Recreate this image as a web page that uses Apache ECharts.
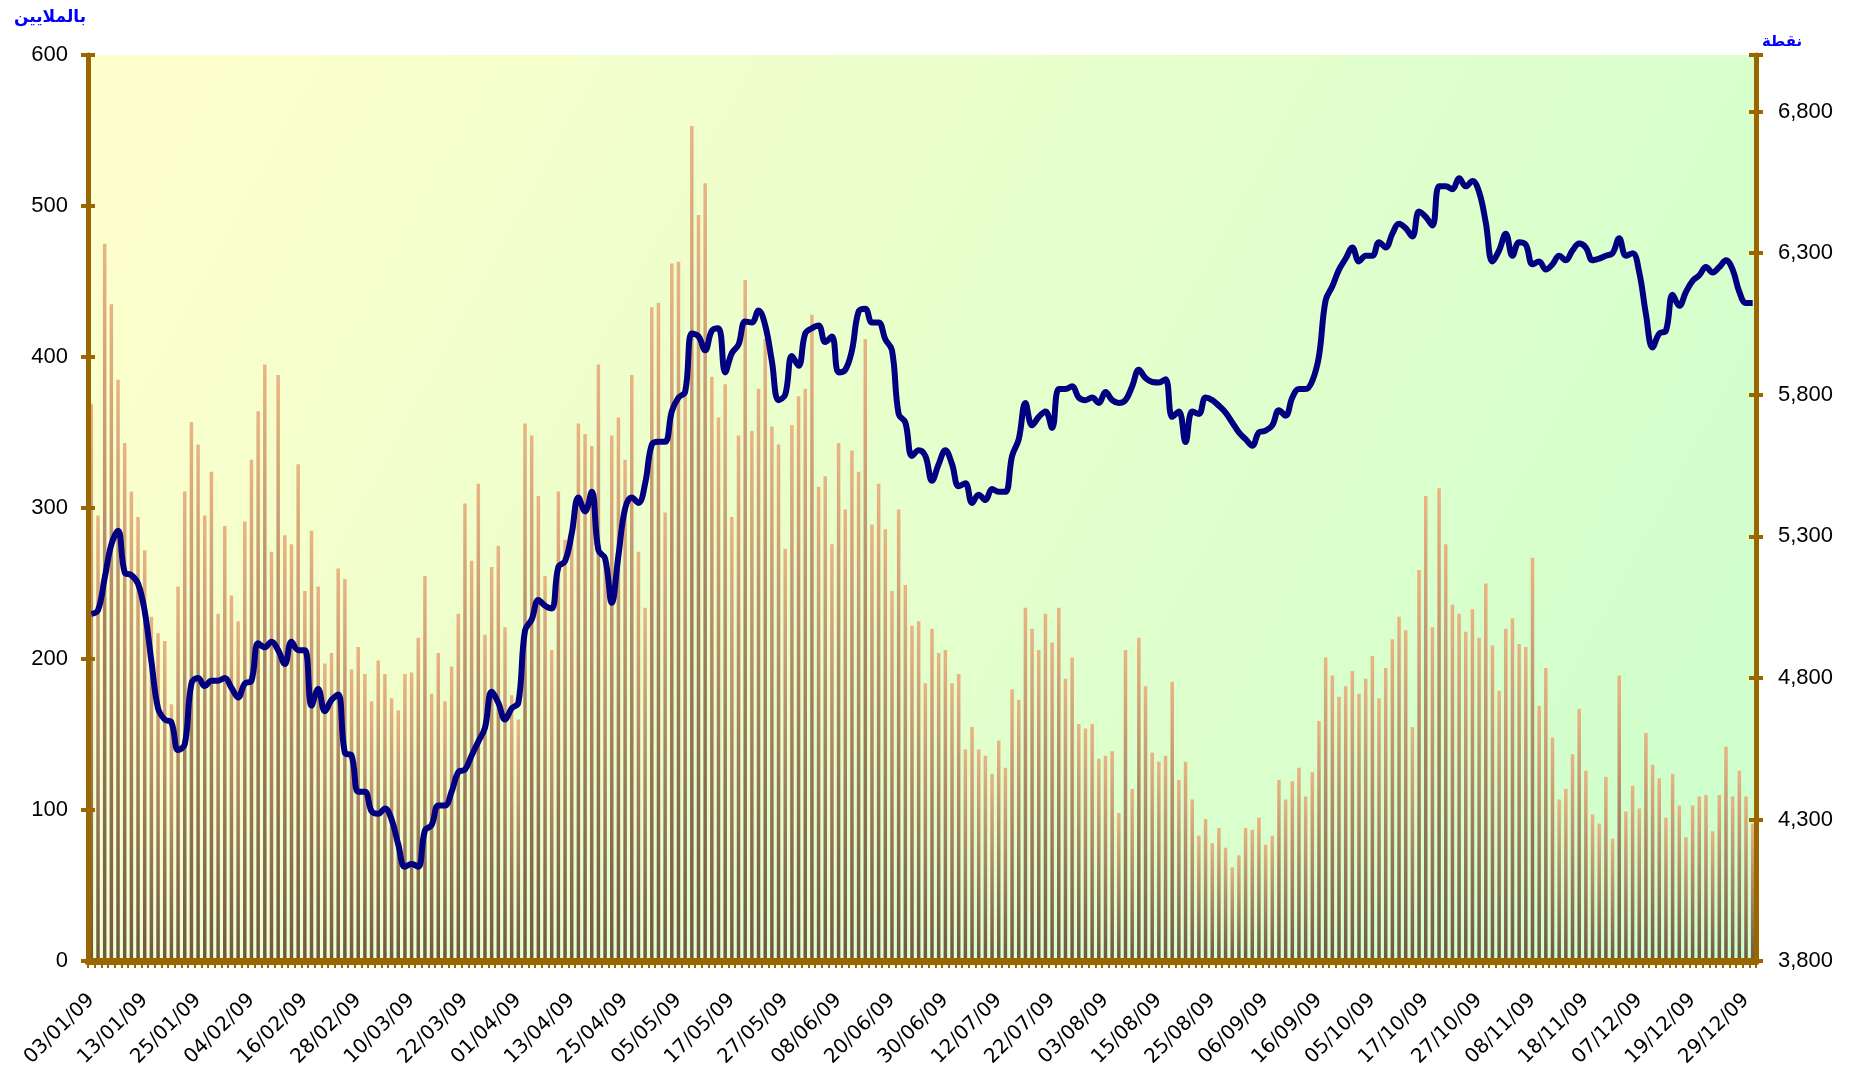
<!DOCTYPE html>
<html>
<head>
<meta charset="utf-8">
<script src="https://cdn.jsdelivr.net/npm/echarts@6/dist/echarts.min.js"></script>
<style>
html,body{margin:0;padding:0;background:#fff;}
#chart{width:1859px;height:1072px;}
</style>
</head>
<body>
<div id="chart"></div>
<script>
// Trading days (Sat–Wed), 2009
const dates = [
"03/01/09","04/01/09","05/01/09","06/01/09","07/01/09","10/01/09","11/01/09","12/01/09","13/01/09","14/01/09",
"17/01/09","18/01/09","19/01/09","20/01/09","21/01/09","24/01/09","25/01/09","26/01/09","27/01/09","28/01/09",
"31/01/09","01/02/09","02/02/09","03/02/09","04/02/09","07/02/09","08/02/09","09/02/09","10/02/09","11/02/09",
"14/02/09","15/02/09","16/02/09","17/02/09","18/02/09","21/02/09","22/02/09","23/02/09","24/02/09","25/02/09",
"28/02/09","01/03/09","02/03/09","03/03/09","04/03/09","07/03/09","08/03/09","09/03/09","10/03/09","11/03/09",
"14/03/09","15/03/09","16/03/09","17/03/09","18/03/09","21/03/09","22/03/09","23/03/09","24/03/09","25/03/09",
"28/03/09","29/03/09","30/03/09","31/03/09","01/04/09","04/04/09","05/04/09","06/04/09","07/04/09","08/04/09",
"11/04/09","12/04/09","13/04/09","14/04/09","15/04/09","18/04/09","19/04/09","20/04/09","21/04/09","22/04/09",
"25/04/09","26/04/09","27/04/09","28/04/09","29/04/09","02/05/09","03/05/09","04/05/09","05/05/09","06/05/09",
"09/05/09","10/05/09","11/05/09","12/05/09","13/05/09","16/05/09","17/05/09","18/05/09","19/05/09","20/05/09",
"23/05/09","24/05/09","25/05/09","26/05/09","27/05/09","30/05/09","31/05/09","01/06/09","02/06/09","03/06/09",
"06/06/09","07/06/09","08/06/09","09/06/09","10/06/09","13/06/09","14/06/09","15/06/09","16/06/09","17/06/09",
"20/06/09","21/06/09","22/06/09","23/06/09","24/06/09","27/06/09","28/06/09","29/06/09","30/06/09","01/07/09",
"04/07/09","05/07/09","06/07/09","07/07/09","08/07/09","11/07/09","12/07/09","13/07/09","14/07/09","15/07/09",
"18/07/09","19/07/09","20/07/09","21/07/09","22/07/09","25/07/09","26/07/09","27/07/09","28/07/09","29/07/09",
"01/08/09","02/08/09","03/08/09","04/08/09","05/08/09","08/08/09","09/08/09","10/08/09","11/08/09","12/08/09",
"15/08/09","16/08/09","17/08/09","18/08/09","19/08/09","22/08/09","23/08/09","24/08/09","25/08/09","26/08/09",
"29/08/09","30/08/09","31/08/09","01/09/09","02/09/09","05/09/09","06/09/09","07/09/09","08/09/09","09/09/09",
"12/09/09","13/09/09","14/09/09","15/09/09","16/09/09","26/09/09","27/09/09","28/09/09","29/09/09","30/09/09",
"03/10/09","04/10/09","05/10/09","06/10/09","07/10/09","10/10/09","11/10/09","12/10/09","13/10/09","14/10/09",
"17/10/09","18/10/09","19/10/09","20/10/09","21/10/09","24/10/09","25/10/09","26/10/09","27/10/09","28/10/09",
"31/10/09","01/11/09","02/11/09","03/11/09","04/11/09","07/11/09","08/11/09","09/11/09","10/11/09","11/11/09",
"14/11/09","15/11/09","16/11/09","17/11/09","18/11/09","21/11/09","22/11/09","23/11/09","24/11/09","25/11/09",
"05/12/09","06/12/09","07/12/09","08/12/09","09/12/09","12/12/09","13/12/09","14/12/09","15/12/09","16/12/09",
"19/12/09","20/12/09","21/12/09","22/12/09","23/12/09","26/12/09","27/12/09","28/12/09","29/12/09","30/12/09"
];

// Traded value, millions (left axis)
const volume = [
369,295,475,435,385,343,311,294,272,228,217,212,170,248,311,357,342,295,324,230,288,242,225,291,332,364,395,271,388,282,276,329,
245,285,248,197,204,260,253,193,208,190,172,199,190,174,166,190,191,214,255,177,204,172,195,230,303,265,316,216,261,275,221,
176,160,356,348,308,255,206,311,279,283,356,349,341,395,269,348,360,332,388,271,234,433,436,297,462,463,375,553,494,515,387,
360,382,294,348,451,351,379,412,354,342,273,355,374,379,428,314,321,276,343,299,338,324,412,289,316,286,245,299,249,222,225,184,
220,204,206,184,190,140,155,140,136,124,146,128,180,173,234,220,206,230,211,234,187,201,157,154,157,134,136,139,98,206,114,
214,182,138,132,136,185,120,132,107,83,94,78,88,75,62,70,88,87,95,77,83,120,107,119,128,109,125,159,201,189,175,
182,192,177,187,202,174,194,213,228,219,155,259,308,221,313,276,236,230,218,233,214,250,209,179,220,227,210,208,267,169,194,
148,107,114,137,167,126,97,91,122,81,189,99,116,101,151,130,121,95,124,103,82,103,109,110,86,110,142,109,126,109,91
];

// Index points (right axis)
const indexPts = [
5026,5039,5153,5271,5320,5173,5163,5133,5035,4859,4692,4653,4643,4545,4565,4780,4800,4771,4790,4790,4800,4765,4731,4780,4790,4922,4908,4928,4898,4849,4928,4898,
4898,4702,4761,4682,4722,4741,4535,4526,4398,4398,4329,4320,4339,4300,4212,4133,4143,4133,4261,4280,4349,4349,4398,4467,4476,4526,4575,4624,4751,4712,4653,
4692,4712,4967,5006,5075,5055,5045,5192,5212,5310,5437,5388,5457,5251,5222,5065,5232,5398,5437,5418,5486,5624,5634,5634,5741,5790,5810,6016,6006,5957,6026,
6035,5879,5947,5977,6059,6055,6098,6045,5918,5781,5800,5937,5902,6016,6035,6045,5986,6006,5879,5888,5957,6094,6104,6055,6055,5996,5957,5732,5702,5584,5604,5584,
5496,5555,5604,5555,5477,5487,5418,5447,5428,5467,5457,5457,5584,5643,5771,5692,5722,5741,5683,5820,5820,5830,5790,5781,5790,5771,5810,5781,5771,5781,5830,
5888,5859,5845,5843,5855,5722,5741,5633,5741,5732,5790,5781,5761,5737,5702,5667,5643,5620,5667,5673,5692,5745,5726,5790,5820,5820,5849,5937,6134,6183,6242,
6281,6320,6271,6291,6291,6339,6320,6369,6404,6388,6359,6447,6428,6398,6536,6536,6526,6565,6536,6555,6516,6408,6271,6310,6369,6291,6339,6330,6261,6271,6242,
6261,6291,6275,6310,6334,6320,6275,6281,6291,6300,6353,6291,6300,6232,6085,5967,6016,6026,6153,6114,6163,6202,6222,6251,6232,6251,6275,6242,6163,6124,6124
];

const leftTitle = 'بالملايين';
const rightTitle = 'نقطة';

const axisColor = '#996600';
const chart = echarts.init(document.getElementById('chart'), null, {renderer:'canvas'});

const fmt = v => (v >= 7000 ? '' : v.toLocaleString('en-US'));
const titleStyle = {fill: '#0000FF', fontWeight: 'bold', fontFamily: 'DejaVu Sans', align: 'center', verticalAlign: 'middle'};

const option = {
  animation: false,
  backgroundColor: '#ffffff',
  graphic: [
    {type: 'text', x: 50, y: 18, style: Object.assign({text: leftTitle, fontSize: 17}, titleStyle)},
    {type: 'text', x: 1782, y: 42, style: Object.assign({text: rightTitle, fontSize: 15}, titleStyle)}
  ],
  grid: {
    left: 88, right: 103, top: 55, bottom: 111,
    show: true, borderWidth: 0,
    backgroundColor: new echarts.graphic.LinearGradient(0, 0, 1, 1, [
      {offset: 0, color: '#FFFFCC'},
      {offset: 1, color: '#CCFFCC'}
    ])
  },
  xAxis: {
    type: 'category',
    data: dates,
    boundaryGap: true,
    z: 10,
    axisLine: {lineStyle: {color: axisColor, width: 7}},
    axisTick: {show: true, interval: 0, length: 7, lineStyle: {color: axisColor, width: 2}},
    axisLabel: {interval: 7, rotate: 45, fontSize: 20, fontFamily: 'DejaVu Sans', color: '#000', margin: 36},
    splitLine: {show: false}
  },
  yAxis: [
    {
      type: 'value', min: 0, max: 600, interval: 100, position: 'left', z: 10,
      axisLine: {show: true, lineStyle: {color: axisColor, width: 5}},
      axisTick: {show: true, length: 7, lineStyle: {color: axisColor, width: 4}},
      axisLabel: {fontSize: 22, fontFamily: 'Liberation Sans', color: '#000', margin: 20},
      splitLine: {show: false}
    },
    {
      type: 'value', min: 3800, max: 7000, interval: 500, position: 'right', z: 10,
      axisLine: {show: true, lineStyle: {color: axisColor, width: 5}},
      axisTick: {show: true, length: 7, lineStyle: {color: axisColor, width: 4}},
      axisLabel: {fontSize: 22, fontFamily: 'Liberation Sans', color: '#000', margin: 22, formatter: fmt},
      splitLine: {show: false}
    },
    {
      type: 'value', min: 0, max: 600, interval: 100, position: 'left', z: 10,
      axisLine: {show: false},
      axisTick: {show: true, inside: true, length: 7, lineStyle: {color: axisColor, width: 4}},
      axisLabel: {show: false}, splitLine: {show: false}
    },
    {
      type: 'value', min: 3800, max: 7000, interval: 500, position: 'right', z: 10,
      axisLine: {show: false},
      axisTick: {show: true, inside: true, length: 7, lineStyle: {color: axisColor, width: 4}},
      axisLabel: {show: false}, splitLine: {show: false}
    }
  ],
  series: [
    {
      type: 'bar',
      data: volume,
      yAxisIndex: 0,
      barWidth: 3.5,
      itemStyle: {
        color: new echarts.graphic.LinearGradient(0, 0, 0, 1, [
          {offset: 0, color: '#E9B482'},
          {offset: 1, color: '#6E5842'}
        ])
      }
    },
    {
      type: 'line',
      data: indexPts,
      yAxisIndex: 1,
      smooth: 0.4,
      symbol: 'none',
      z: 5,
      lineStyle: {color: '#000080', width: 6}
    }
  ]
};
chart.setOption(option);
</script>
</body>
</html>
